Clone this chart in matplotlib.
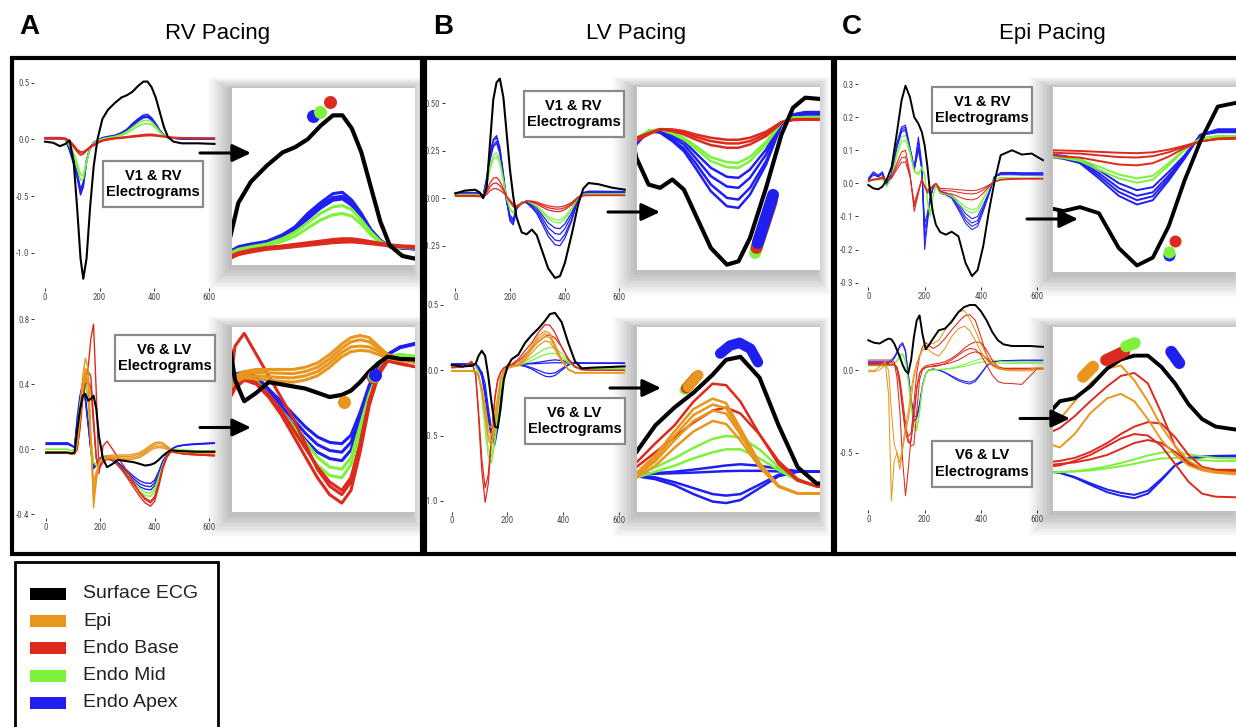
import matplotlib.pyplot as plt
from matplotlib import font_manager
from matplotlib.patches import Rectangle, FancyArrowPatch

plt.rcParams['font.family'] = ['Liberation Sans', 'DejaVu Sans']
_names = {f.name for f in font_manager.fontManager.ttflist}
TICK_FONT, TICK_SIZE = 'Liberation Sans', 5.2
for _cand in ['Liberation Sans Narrow', 'Roboto Condensed', 'DejaVu Sans Condensed', 'Open Sans Condensed']:
    if _cand in _names:
        TICK_FONT, TICK_SIZE = _cand, 6.4
        break

# ---------------- data (ms, mV) ----------------
# A: RV pacing, V1 & RV electrograms
tA1 = [0, 30, 55, 75, 90, 105, 118, 130, 140, 152, 165, 178, 192, 210, 230, 255,
       280, 300, 320, 340, 360, 375, 390, 405, 420, 435, 450, 470, 500, 560, 620]
A1_black = [-0.02, -0.03, -0.06, -0.04, -0.01, -0.20, -0.62, -1.05, -1.23, -1.05, -0.60, -0.24, 0.00, 0.18, 0.26, 0.32,
            0.37, 0.39, 0.42, 0.47, 0.51, 0.51, 0.46, 0.37, 0.24, 0.11, 0.02, -0.02, -0.035, -0.035, -0.04]
A1_blue = [
    [0.01, 0.01, 0.01, 0.00, -0.10, -0.22, -0.34, -0.49, -0.42, -0.20, -0.08, -0.03, -0.01, 0.015, 0.025, 0.035,
     0.06, 0.09, 0.14, 0.18, 0.215, 0.22, 0.19, 0.14, 0.08, 0.04, 0.015, 0.01, 0.005, 0.005, 0.005],
    [0.015, 0.015, 0.015, 0.005, -0.09, -0.20, -0.32, -0.46, -0.40, -0.19, -0.075, -0.03, -0.01, 0.012, 0.022, 0.033,
     0.055, 0.085, 0.13, 0.17, 0.20, 0.205, 0.18, 0.13, 0.075, 0.035, 0.015, 0.01, 0.005, 0.005, 0.005],
    [0.005, 0.005, 0.005, 0.00, -0.08, -0.19, -0.30, -0.44, -0.38, -0.18, -0.07, -0.03, -0.012, 0.01, 0.02, 0.03,
     0.05, 0.08, 0.12, 0.16, 0.19, 0.195, 0.17, 0.125, 0.07, 0.035, 0.015, 0.01, 0.005, 0.005, 0.005],
]
A1_green = [
    [0.01, 0.01, 0.01, 0.0, -0.06, -0.14, -0.24, -0.36, -0.35, -0.2, -0.08, -0.035, -0.015, 0.005, 0.015, 0.025,
     0.045, 0.07, 0.105, 0.14, 0.165, 0.17, 0.155, 0.115, 0.07, 0.035, 0.015, 0.012, 0.01, 0.01, 0.01],
    [0.01, 0.01, 0.01, 0.0, -0.05, -0.12, -0.21, -0.31, -0.32, -0.19, -0.08, -0.035, -0.015, 0.003, 0.012, 0.02,
     0.035, 0.055, 0.085, 0.115, 0.135, 0.14, 0.13, 0.1, 0.06, 0.03, 0.015, 0.012, 0.01, 0.01, 0.01],
]
A1_red = [
    [0.01, 0.01, 0.01, 0.005, -0.02, -0.07, -0.11, -0.14, -0.13, -0.1, -0.07, -0.05, -0.03, -0.01, 0.0, 0.01,
     0.015, 0.02, 0.025, 0.03, 0.035, 0.04, 0.04, 0.035, 0.03, 0.025, 0.02, 0.015, 0.012, 0.01, 0.01],
    [0.015, 0.015, 0.015, 0.01, -0.01, -0.05, -0.09, -0.11, -0.11, -0.09, -0.065, -0.045, -0.025, -0.008, 0.003, 0.012,
     0.018, 0.024, 0.03, 0.036, 0.042, 0.045, 0.045, 0.04, 0.034, 0.028, 0.022, 0.018, 0.015, 0.012, 0.012],
    [0.005, 0.005, 0.005, 0.0, -0.02, -0.06, -0.1, -0.12, -0.12, -0.1, -0.075, -0.055, -0.035, -0.015, -0.005, 0.005,
     0.01, 0.015, 0.02, 0.025, 0.03, 0.032, 0.033, 0.03, 0.026, 0.022, 0.018, 0.014, 0.01, 0.008, 0.008],
]

# A: RV pacing, V6 & LV electrograms
tA2 = [0, 40, 80, 95, 105, 115, 125, 135, 145, 155, 165, 175, 185, 195, 210, 225, 245,
       265, 285, 305, 325, 345, 365, 385, 400, 415, 430, 445, 460, 480, 510, 560, 620]
A2_black = [-0.02, -0.02, -0.02, -0.025, -0.02, 0.12, 0.24, 0.33, 0.34, 0.30, 0.31, 0.33, 0.25, 0.08, -0.06, -0.11, -0.09,
            -0.065, -0.07, -0.075, -0.08, -0.09, -0.10, -0.095, -0.085, -0.065, -0.04, -0.02, -0.005, -0.01, -0.012, -0.015, -0.015]
A2_blue = [
    [0.04, 0.04, 0.04, 0.025, 0.015, 0.20, 0.33, 0.41, 0.32, 0.17, 0.00, -0.12, -0.10, -0.065, -0.05, -0.045, -0.06,
     -0.095, -0.13, -0.165, -0.20, -0.23, -0.245, -0.25, -0.225, -0.16, -0.085, -0.035, 0.00, 0.018, 0.028, 0.035, 0.04],
    [0.035, 0.035, 0.035, 0.022, 0.012, 0.18, 0.31, 0.39, 0.31, 0.16, 0.00, -0.11, -0.095, -0.06, -0.048, -0.043, -0.056,
     -0.088, -0.12, -0.152, -0.185, -0.212, -0.226, -0.23, -0.207, -0.148, -0.078, -0.032, 0.00, 0.017, 0.027, 0.033, 0.038],
    [0.03, 0.03, 0.03, 0.02, 0.01, 0.16, 0.29, 0.37, 0.30, 0.15, 0.00, -0.10, -0.09, -0.057, -0.046, -0.041, -0.052,
     -0.081, -0.11, -0.14, -0.17, -0.194, -0.207, -0.21, -0.19, -0.136, -0.072, -0.03, 0.00, 0.016, 0.026, 0.031, 0.036],
]
A2_green = [
    [0.0, 0.0, 0.0, -0.01, 0.0, 0.12, 0.28, 0.40, 0.44, 0.30, 0.08, -0.08, -0.10, -0.07, -0.055, -0.05, -0.065,
     -0.10, -0.14, -0.18, -0.22, -0.26, -0.285, -0.29, -0.26, -0.18, -0.10, -0.04, -0.005, 0.0, -0.005, -0.01, -0.01],
    [0.0, 0.0, 0.0, -0.01, 0.0, 0.11, 0.26, 0.37, 0.41, 0.28, 0.07, -0.08, -0.095, -0.066, -0.052, -0.048, -0.062,
     -0.095, -0.13, -0.168, -0.205, -0.242, -0.265, -0.27, -0.243, -0.168, -0.094, -0.038, -0.005, 0.0, -0.005, -0.01, -0.01],
]
A2_red = [
    [-0.02, -0.02, -0.02, -0.03, -0.025, 0.05, 0.20, 0.35, 0.45, 0.50, 0.68, 0.77, 0.35, -0.15, 0.02, 0.05, 0.0,
     -0.05, -0.10, -0.15, -0.21, -0.27, -0.31, -0.33, -0.30, -0.21, -0.11, -0.04, -0.01, -0.01, -0.02, -0.03, -0.035],
    [-0.02, -0.02, -0.02, -0.03, -0.025, 0.0, 0.15, 0.35, 0.45, 0.48, 0.45, 0.20, -0.05, -0.12, -0.08, -0.06, -0.07,
     -0.10, -0.14, -0.19, -0.24, -0.29, -0.33, -0.35, -0.32, -0.23, -0.12, -0.05, -0.015, -0.02, -0.03, -0.035, -0.04],
    [-0.025, -0.025, -0.025, -0.03, -0.028, 0.0, 0.12, 0.30, 0.40, 0.42, 0.38, 0.15, -0.06, -0.10, -0.075, -0.058, -0.066,
     -0.094, -0.13, -0.175, -0.22, -0.265, -0.30, -0.32, -0.29, -0.21, -0.11, -0.045, -0.015, -0.022, -0.03, -0.035, -0.04],
]
A2_orange = [
    [-0.02, -0.02, -0.02, -0.03, -0.03, 0.05, 0.25, 0.45, 0.56, 0.50, 0.10, -0.36, -0.20, -0.08, -0.05, -0.04, -0.035,
     -0.035, -0.035, -0.035, -0.03, -0.02, 0.0, 0.025, 0.04, 0.045, 0.04, 0.02, 0.0, -0.01, -0.015, -0.02, -0.02],
    [-0.02, -0.02, -0.02, -0.03, -0.03, 0.04, 0.22, 0.40, 0.50, 0.45, 0.05, -0.30, -0.18, -0.085, -0.055, -0.045, -0.042,
     -0.043, -0.044, -0.045, -0.04, -0.03, -0.01, 0.015, 0.03, 0.035, 0.03, 0.015, 0.0, -0.01, -0.015, -0.02, -0.02],
    [-0.02, -0.02, -0.02, -0.03, -0.03, 0.03, 0.20, 0.38, 0.47, 0.42, 0.03, -0.25, -0.16, -0.09, -0.06, -0.05, -0.05,
     -0.052, -0.054, -0.055, -0.05, -0.04, -0.02, 0.005, 0.018, 0.02, 0.018, 0.008, -0.004, -0.012, -0.016, -0.02, -0.02],
    [-0.02, -0.02, -0.02, -0.03, -0.03, 0.03, 0.18, 0.36, 0.45, 0.40, 0.02, -0.20, -0.14, -0.09, -0.065, -0.055, -0.057,
     -0.06, -0.063, -0.065, -0.06, -0.05, -0.03, -0.005, 0.007, 0.01, 0.008, 0.0, -0.008, -0.014, -0.018, -0.02, -0.02],
]

# B: LV pacing, V1 & RV electrograms
tB1 = [0, 35, 72, 90, 102, 115, 127, 139, 151, 163, 176, 188, 200, 212, 224, 243,
       261, 280, 298, 316, 340, 365, 383, 401, 426, 450, 468, 487, 523, 572, 620]
B1_black = [0.025, 0.04, 0.045, 0.03, 0.0, 0.06, 0.29, 0.52, 0.61, 0.63, 0.53, 0.34, 0.15, 0.01, -0.10, -0.18,
            -0.19, -0.165, -0.195, -0.27, -0.37, -0.42, -0.41, -0.34, -0.19, -0.03, 0.05, 0.08, 0.074, 0.056, 0.045]
B1_blue = [
    [0.03, 0.03, 0.03, 0.025, 0.016, 0.11, 0.24, 0.31, 0.33, 0.27, 0.13, -0.01, -0.12, -0.14, -0.06, -0.02,
     -0.025, -0.05, -0.08, -0.13, -0.20, -0.245, -0.25, -0.21, -0.12, 0.0, 0.03, 0.037, 0.037, 0.036, 0.035],
    [0.03, 0.03, 0.03, 0.025, 0.016, 0.1, 0.23, 0.3, 0.32, 0.26, 0.12, -0.015, -0.11, -0.13, -0.055, -0.02,
     -0.022, -0.045, -0.072, -0.115, -0.18, -0.22, -0.225, -0.19, -0.11, 0.0, 0.028, 0.035, 0.035, 0.034, 0.033],
    [0.025, 0.025, 0.025, 0.02, 0.015, 0.09, 0.21, 0.28, 0.3, 0.245, 0.11, -0.02, -0.1, -0.12, -0.05, -0.02,
     -0.02, -0.038, -0.06, -0.1, -0.155, -0.186, -0.19, -0.16, -0.09, 0.002, 0.025, 0.03, 0.03, 0.03, 0.03],
    [0.025, 0.025, 0.025, 0.02, 0.015, 0.08, 0.2, 0.27, 0.29, 0.235, 0.105, -0.02, -0.09, -0.11, -0.05, -0.02,
     -0.018, -0.032, -0.05, -0.085, -0.13, -0.157, -0.16, -0.135, -0.075, 0.005, 0.022, 0.027, 0.027, 0.027, 0.027],
]
B1_green = [
    [0.02, 0.02, 0.02, 0.018, 0.012, 0.07, 0.17, 0.225, 0.24, 0.2, 0.1, 0.0, -0.06, -0.08, -0.045, -0.02,
     -0.015, -0.028, -0.045, -0.072, -0.11, -0.128, -0.13, -0.11, -0.06, 0.005, 0.02, 0.022, 0.022, 0.022, 0.022],
    [0.02, 0.02, 0.02, 0.018, 0.012, 0.065, 0.15, 0.205, 0.22, 0.185, 0.09, 0.0, -0.055, -0.075, -0.04, -0.02,
     -0.014, -0.025, -0.04, -0.064, -0.098, -0.113, -0.115, -0.097, -0.052, 0.006, 0.02, 0.022, 0.022, 0.022, 0.022],
]
B1_red = [
    [0.015, 0.015, 0.015, 0.012, 0.01, 0.04, 0.08, 0.105, 0.11, 0.09, 0.05, 0.01, -0.02, -0.045, -0.05, -0.03,
     -0.015, -0.02, -0.03, -0.045, -0.062, -0.07, -0.07, -0.06, -0.035, 0.005, 0.015, 0.016, 0.016, 0.016, 0.016],
    [0.012, 0.012, 0.012, 0.01, 0.008, 0.03, 0.06, 0.078, 0.08, 0.066, 0.04, 0.01, -0.015, -0.04, -0.045, -0.028,
     -0.015, -0.018, -0.025, -0.037, -0.05, -0.057, -0.057, -0.05, -0.028, 0.006, 0.014, 0.015, 0.015, 0.015, 0.015],
    [0.01, 0.01, 0.01, 0.008, 0.006, 0.02, 0.04, 0.05, 0.05, 0.042, 0.028, 0.008, -0.01, -0.03, -0.04, -0.026,
     -0.014, -0.015, -0.02, -0.03, -0.04, -0.046, -0.046, -0.04, -0.022, 0.007, 0.013, 0.014, 0.014, 0.014, 0.014],
]

# B: LV pacing, V6 & LV electrograms
tB2 = [0, 40, 72, 86, 96, 108, 120, 131, 143, 155, 165, 175, 187, 200, 215,
       239, 263, 287, 311, 335, 352, 370, 394, 418, 442, 466, 500, 560, 620]
B2_black = [0.04, 0.03, 0.035, 0.05, 0.11, 0.15, 0.11, -0.04, -0.25, -0.43, -0.44, -0.30, -0.07, 0.03, 0.085,
            0.12, 0.21, 0.27, 0.32, 0.38, 0.43, 0.44, 0.37, 0.21, 0.07, 0.015, 0.02, 0.025, 0.03]
B2_blue = [
    [0.046, 0.046, 0.046, 0.046, 0.02, -0.05, -0.20, -0.38, -0.52, -0.57, -0.45, -0.25, -0.06, 0.02, 0.035,
     0.04, 0.03, 0.01, -0.02, -0.045, -0.05, -0.04, 0.0, 0.04, 0.055, 0.055, 0.054, 0.054, 0.054],
    [0.046, 0.046, 0.046, 0.046, 0.02, -0.04, -0.18, -0.36, -0.50, -0.55, -0.43, -0.24, -0.06, 0.02, 0.035,
     0.042, 0.036, 0.02, 0.0, -0.02, -0.025, -0.02, 0.012, 0.045, 0.055, 0.055, 0.054, 0.054, 0.054],
    [0.05, 0.05, 0.05, 0.05, 0.03, -0.02, -0.15, -0.33, -0.48, -0.53, -0.42, -0.23, -0.05, 0.025, 0.038,
     0.045, 0.048, 0.05, 0.052, 0.055, 0.057, 0.058, 0.058, 0.056, 0.055, 0.055, 0.054, 0.054, 0.054],
    [0.05, 0.05, 0.05, 0.045, 0.005, -0.01, -0.10, -0.28, -0.45, -0.50, -0.40, -0.22, -0.05, 0.025, 0.04,
     0.045, 0.05, 0.055, 0.062, 0.07, 0.076, 0.08, 0.075, 0.065, 0.057, 0.055, 0.054, 0.054, 0.054],
]
B2_green = [
    [0.03, 0.03, 0.03, 0.03, -0.02, -0.20, -0.45, -0.66, -0.71, -0.55, -0.35, -0.15, -0.03, 0.02, 0.03,
     0.04, 0.07, 0.10, 0.135, 0.165, 0.175, 0.17, 0.13, 0.07, 0.025, 0.01, 0.01, 0.01, 0.01],
    [0.03, 0.03, 0.03, 0.03, -0.02, -0.18, -0.42, -0.60, -0.66, -0.52, -0.33, -0.14, -0.03, 0.02, 0.03,
     0.035, 0.055, 0.075, 0.10, 0.12, 0.13, 0.13, 0.10, 0.06, 0.025, 0.012, 0.012, 0.012, 0.012],
]
B2_red = [
    [0.02, 0.025, 0.07, -0.04, -0.35, -0.77, -1.01, -0.87, -0.53, -0.22, -0.08, -0.02, 0.02, 0.035, 0.046,
     0.085, 0.15, 0.21, 0.29, 0.35, 0.345, 0.29, 0.18, 0.08, 0.025, 0.005, 0.0, 0.0, 0.0],
    [0.02, 0.025, 0.06, -0.03, -0.30, -0.68, -0.90, -0.80, -0.50, -0.20, -0.07, -0.015, 0.015, 0.03, 0.04,
     0.07, 0.12, 0.17, 0.22, 0.26, 0.27, 0.25, 0.18, 0.09, 0.03, 0.006, 0.0, 0.0, 0.0],
]
B2_orange = [
    [-0.005, -0.005, -0.005, -0.01, -0.04, -0.13, -0.27, -0.42, -0.44, -0.33, -0.20, -0.06, 0.0, 0.02, 0.035,
     0.05, 0.11, 0.19, 0.265, 0.30, 0.285, 0.20, 0.085, 0.008, -0.018, -0.018, -0.018, -0.018, -0.018],
    [-0.005, -0.005, -0.005, -0.01, -0.04, -0.14, -0.30, -0.46, -0.50, -0.38, -0.22, -0.07, -0.005, 0.018, 0.032,
     0.045, 0.10, 0.175, 0.245, 0.28, 0.268, 0.19, 0.08, 0.006, -0.018, -0.018, -0.018, -0.018, -0.018],
    [-0.005, -0.005, -0.005, -0.01, -0.04, -0.15, -0.32, -0.50, -0.55, -0.42, -0.25, -0.08, -0.01, 0.015, 0.03,
     0.04, 0.09, 0.16, 0.225, 0.26, 0.25, 0.18, 0.075, 0.005, -0.018, -0.018, -0.018, -0.018, -0.018],
    [-0.005, -0.005, -0.005, -0.01, -0.04, -0.16, -0.34, -0.53, -0.58, -0.45, -0.27, -0.09, -0.015, 0.012, 0.025,
     0.035, 0.075, 0.135, 0.19, 0.225, 0.215, 0.16, 0.07, 0.005, -0.018, -0.018, -0.018, -0.018, -0.018],
]

# C: Epi pacing, V1 & RV electrograms
tC1 = [0, 18, 35, 50, 65, 83, 101, 118, 132, 148, 163, 178, 190, 200, 210, 220, 230,
       240, 255, 275, 296, 320, 345, 368, 388, 408, 428, 448, 470, 510, 545, 580, 620]
C1_black = [-0.005, -0.015, -0.018, -0.01, 0.01, 0.05, 0.15, 0.25, 0.295, 0.26, 0.20, 0.18, 0.155, 0.115, 0.05, -0.035, -0.09,
            -0.125, -0.147, -0.155, -0.146, -0.16, -0.24, -0.28, -0.262, -0.19, -0.085, 0.005, 0.085, 0.10, 0.087, 0.09, 0.07]
C1_blue = [
    [0.01, 0.03, 0.02, 0.03, -0.005, 0.03, 0.12, 0.17, 0.176, 0.11, 0.05, 0.14, 0.06, -0.20, -0.12, -0.05, -0.012,
     -0.005, -0.03, -0.035, -0.045, -0.08, -0.12, -0.14, -0.13, -0.085, -0.035, 0.02, 0.033, 0.033, 0.032, 0.032, 0.032],
    [0.015, 0.035, 0.025, 0.035, 0.0, 0.03, 0.115, 0.165, 0.17, 0.105, 0.045, 0.125, 0.05, -0.17, -0.11, -0.045, -0.012,
     -0.005, -0.028, -0.033, -0.042, -0.074, -0.111, -0.13, -0.121, -0.079, -0.032, 0.02, 0.03, 0.03, 0.03, 0.03, 0.03],
    [0.01, 0.025, 0.02, 0.028, -0.003, 0.028, 0.11, 0.16, 0.165, 0.1, 0.04, 0.11, 0.045, -0.14, -0.1, -0.045, -0.012,
     -0.005, -0.026, -0.03, -0.039, -0.068, -0.102, -0.12, -0.112, -0.073, -0.03, 0.02, 0.028, 0.028, 0.027, 0.027, 0.027],
    [0.012, 0.03, 0.022, 0.03, 0.0, 0.027, 0.105, 0.155, 0.16, 0.1, 0.04, 0.1, 0.04, -0.12, -0.09, -0.04, -0.012,
     -0.005, -0.024, -0.028, -0.035, -0.061, -0.091, -0.107, -0.1, -0.065, -0.027, 0.02, 0.026, 0.026, 0.025, 0.025, 0.025],
]
C1_green = [
    [0.005, 0.015, 0.01, 0.015, -0.01, 0.02, 0.09, 0.14, 0.145, 0.10, 0.04, 0.03, 0.05, 0.03, -0.06, -0.10, -0.04,
     -0.005, -0.03, -0.033, -0.04, -0.06, -0.08, -0.09, -0.083, -0.05, -0.015, 0.012, 0.018, 0.017, 0.016, 0.016, 0.016],
    [0.005, 0.012, 0.01, 0.012, -0.008, 0.018, 0.08, 0.125, 0.13, 0.09, 0.035, 0.025, 0.045, 0.025, -0.05, -0.09, -0.035,
     -0.005, -0.028, -0.03, -0.036, -0.053, -0.071, -0.08, -0.074, -0.045, -0.013, 0.012, 0.016, 0.015, 0.015, 0.015, 0.015],
]
C1_red = [
    [0.005, 0.01, 0.015, 0.02, 0.01, 0.02, 0.06, 0.095, 0.10, 0.03, -0.085, -0.03, 0.015, -0.01, -0.03, -0.02, -0.01,
     0.0, -0.025, -0.03, -0.032, -0.04, -0.048, -0.05, -0.045, -0.03, -0.01, 0.005, 0.012, 0.014, 0.015, 0.015, 0.015],
    [0.01, 0.012, 0.015, 0.018, 0.01, 0.018, 0.05, 0.077, 0.08, 0.025, -0.07, -0.025, 0.012, -0.01, -0.025, -0.018, -0.008,
     0.0, -0.02, -0.022, -0.023, -0.027, -0.031, -0.032, -0.029, -0.02, -0.007, 0.005, 0.011, 0.013, 0.014, 0.014, 0.014],
    [0.008, 0.01, 0.012, 0.015, 0.008, 0.015, 0.042, 0.063, 0.065, 0.02, -0.06, -0.02, 0.01, -0.008, -0.02, -0.015, -0.006,
     0.0, -0.015, -0.016, -0.017, -0.019, -0.021, -0.022, -0.02, -0.014, -0.005, 0.005, 0.01, 0.012, 0.013, 0.013, 0.013],
]

# C: Epi pacing, V6 & LV electrograms
tC2 = [0, 20, 40, 60, 72, 82, 92, 102, 112, 122, 132, 142, 152, 162, 172, 182, 192, 204, 215,
       230, 250, 272, 295, 320, 340, 360, 380, 400, 420, 440, 460, 480, 510, 545, 575, 600, 620]
C2_black = [0.18, 0.165, 0.16, 0.18, 0.19, 0.185, 0.16, 0.12, 0.08, 0.03, -0.005, -0.02, 0.06, 0.20, 0.30, 0.33, 0.22, 0.125, 0.15,
            0.19, 0.24, 0.25, 0.29, 0.35, 0.38, 0.393, 0.393, 0.355, 0.30, 0.23, 0.18, 0.155, 0.145, 0.145, 0.145, 0.142, 0.14]
C2_blue = [
    [0.05, 0.05, 0.05, 0.05, 0.05, 0.06, 0.08, 0.11, 0.15, 0.165, 0.12, -0.02, -0.18, -0.31, -0.29, -0.22, -0.10, -0.02, 0.0,
     0.006, 0.0, -0.016, -0.04, -0.065, -0.077, -0.085, -0.07, -0.025, 0.025, 0.05, 0.055, 0.057, 0.058, 0.06, 0.06, 0.06, 0.06],
    [0.04, 0.04, 0.04, 0.04, 0.04, 0.05, 0.07, 0.10, 0.14, 0.155, 0.11, -0.03, -0.17, -0.28, -0.28, -0.2, -0.09, -0.02, 0.0,
     0.005, 0.0, -0.014, -0.035, -0.056, -0.067, -0.074, -0.06, -0.02, 0.025, 0.048, 0.052, 0.054, 0.055, 0.056, 0.056, 0.056, 0.056],
]
C2_green = [
    [0.03, 0.03, 0.03, 0.03, 0.03, 0.03, 0.04, 0.06, 0.09, 0.1, 0.06, -0.06, -0.2, -0.33, -0.35, -0.25, -0.1, -0.02, 0.0,
     0.0, 0.003, 0.006, 0.012, 0.022, 0.033, 0.045, 0.058, 0.068, 0.07, 0.062, 0.055, 0.05, 0.048, 0.047, 0.047, 0.047, 0.047],
    [0.025, 0.025, 0.025, 0.025, 0.025, 0.025, 0.035, 0.05, 0.08, 0.09, 0.05, -0.07, -0.22, -0.35, -0.37, -0.26, -0.1, -0.02, 0.0,
     0.0, 0.002, 0.004, 0.008, 0.015, 0.022, 0.03, 0.04, 0.048, 0.05, 0.046, 0.042, 0.04, 0.04, 0.04, 0.04, 0.04, 0.04],
]
C2_red = [
    [0.06, 0.06, 0.06, 0.06, 0.06, 0.06, 0.05, -0.05, -0.25, -0.55, -0.76, -0.60, -0.40, -0.20, -0.02, 0.08, 0.14, 0.165, 0.15,
     0.13, 0.15, 0.19, 0.24, 0.29, 0.325, 0.335, 0.30, 0.20, 0.09, 0.03, 0.01, 0.005, 0.005, 0.005, 0.005, 0.005, 0.005],
    [0.045, 0.045, 0.045, 0.045, 0.045, 0.045, 0.04, 0.0, -0.10, -0.25, -0.38, -0.44, -0.43, -0.30, -0.12, -0.02, 0.01, 0.025, 0.03,
     0.035, 0.04, 0.05, 0.07, 0.10, 0.13, 0.155, 0.17, 0.165, 0.12, 0.06, 0.02, 0.01, 0.01, 0.01, 0.01, 0.01, 0.01],
    [0.035, 0.035, 0.035, 0.035, 0.035, 0.035, 0.035, 0.02, -0.05, -0.18, -0.32, -0.42, -0.46, -0.45, -0.25, -0.06, 0.0, 0.015, 0.02,
     0.025, 0.03, 0.035, 0.045, 0.06, 0.08, 0.10, 0.11, 0.10, 0.07, 0.035, 0.015, 0.01, 0.01, 0.01, 0.01, 0.01, 0.01],
    [0.03, 0.03, 0.03, 0.03, 0.03, 0.03, 0.03, 0.01, -0.08, -0.22, -0.36, -0.40, -0.38, -0.25, -0.10, -0.02, 0.005, 0.015, 0.02,
     0.02, 0.025, 0.04, 0.06, 0.09, 0.115, 0.13, 0.125, 0.09, 0.03, -0.03, -0.07, -0.08, -0.082, -0.087, -0.035, 0.008, 0.01],
]
C2_orange = [
    [0.0, -0.005, 0.02, 0.05, -0.15, -0.79, -0.55, -0.50, -0.60, -0.48, -0.38, -0.30, -0.18, -0.05, 0.03, 0.08, 0.12, 0.145, 0.155,
     0.16, 0.18, 0.24, 0.30, 0.35, 0.36, 0.31, 0.24, 0.155, 0.09, 0.04, 0.015, 0.004, 0.0, 0.0, 0.005, 0.015, 0.012],
    [-0.01, -0.01, 0.0, 0.03, 0.0, -0.25, -0.45, -0.50, -0.56, -0.45, -0.35, -0.25, -0.12, -0.02, 0.04, 0.09, 0.12, 0.13, 0.12,
     0.10, 0.085, 0.13, 0.20, 0.25, 0.265, 0.24, 0.18, 0.11, 0.06, 0.025, 0.008, 0.0, -0.005, -0.005, -0.005, 0.005, 0.005],
]

# timing markers drawn on the zoomed insets (ms, mV)
A1_dots = [('blue', 329, 0.506), ('green', 339, 0.523), ('red', 355, 0.56)]
A2_dots = [('orange', 388, -0.112), ('red', 436, -0.053), ('green', 437, -0.05), ('blue', 439, -0.047)]
B1_bars = [('green', [433, 409], [-0.24, -0.385]), ('red', [435, 411], [-0.23, -0.37]),
           ('blue', [437, 413], [-0.211, -0.355])]
B2_bars = [('green', [300, 313], [0.33, 0.37]), ('red', [302, 315], [0.335, 0.375]),
           ('orange', [304, 317], [0.339, 0.379]),
           ('blue', [344.6, 357, 369, 382.6, 392], [0.451, 0.478, 0.487, 0.467, 0.422])]
C1_dots = [('blue', 408, -0.257), ('green', 409, -0.248), ('red', 415.4, -0.224)]
C2_bars = [('orange', [284.3, 299.1], [0.322, 0.356]), ('red', [318.3, 345.3], [0.378, 0.407]),
           ('green', [348, 360.7], [0.424, 0.435]), ('blue', [414.4, 426.3], [0.406, 0.368])]

legend_labels = ['Surface ECG', 'Epi', 'Endo Base', 'Endo Mid', 'Endo Apex']
legend_keys = ['black', 'orange', 'red', 'green', 'blue']

COL = {'black': '#000000', 'orange': '#E8961E', 'red': '#DC2A1E', 'green': '#7CF23A', 'blue': '#1F1FF2'}

# ---------------- layout (pixels of the 1236x727 picture) ----------------
W, H = 1236, 727
fig = plt.figure(figsize=(W / 100, H / 100), dpi=100)
fig.patch.set_facecolor('white')


def frect(x0, x1, y0, y1):
    return [x0 / W, 1 - y1 / H, (x1 - x0) / W, (y1 - y0) / H]


bg = fig.add_axes([0, 0, 1, 1], zorder=0)
bg.set_xlim(0, W); bg.set_ylim(H, 0); bg.axis('off')
over = fig.add_axes([0, 0, 1, 1], zorder=6)
over.set_xlim(0, W); over.set_ylim(H, 0); over.axis('off')

panels = {
    'A1': dict(t=tA1, black=A1_black, blue=A1_blue, green=A1_green, red=A1_red, orange=[],
               px=(45, 209), py=((82.7, 0.5), (252.7, -1.0)), xlim=(-40, 640), ylim=(-1.31, 0.62),
               yt=[-1.0, -0.5, 0.0, 0.5], ytl=['-1.0', '-0.5', '0.0', '0.5'],
               box=(232, 415, 88, 265), ixl=(200, 490), iyl=(-0.054, 0.613),
               label=(153, 184), arrow=(200, 251, 153), lw=(1.5, 1.1), ilw=(3.0, 2.2)),
    'A2': dict(t=tA2, black=A2_black, blue=A2_blue, green=A2_green, red=A2_red, orange=A2_orange,
               px=(46, 209), py=((319.3, 0.8), (514.3, -0.4)), xlim=(-44, 640), ylim=(-0.423, 0.86),
               yt=[-0.4, 0.0, 0.4, 0.8], ytl=['-0.4', '0.0', '0.4', '0.8'],
               box=(232, 415, 327, 512), ixl=(205, 505), iyl=(-0.371, 0.065),
               label=(164.5, 358), arrow=(200, 251, 427.5), lw=(1.5, 1.0), ilw=(3.0, 2.2)),
    'B1': dict(t=tB1, black=B1_black, blue=B1_blue, green=B1_green, red=B1_red, orange=[],
               px=(455.3, 619.3), py=((103.3, 0.5), (245.7, -0.25)), xlim=(-38, 640), ylim=(-0.473, 0.68),
               yt=[-0.25, 0.0, 0.25, 0.5], ytl=['-0.25', '0.00', '0.25', '0.50'],
               box=(637, 820, 87, 270), ixl=(225, 510), iyl=(-0.436, 0.112),
               label=(573.5, 113.7), arrow=(608, 660, 212), lw=(1.5, 0.9), ilw=(3.0, 1.8)),
    'B2': dict(t=tB2, black=B2_black, blue=B2_blue, green=B2_green, red=B2_red, orange=B2_orange,
               px=(451.7, 619), py=((305, 0.5), (501, -1.0)), xlim=(-31, 640), ylim=(-1.081, 0.52),
               yt=[-1.0, -0.5, 0.0, 0.5], ytl=['-1.0', '-0.5', '0.0', '0.5'],
               box=(637, 820, 327, 512), ixl=(240, 470), iyl=(-0.08, 0.54),
               label=(574.5, 421), arrow=(610, 661, 388), lw=(1.5, 0.9), ilw=(3.0, 1.8)),
    'C1': dict(t=tC1, black=C1_black, blue=C1_blue, green=C1_green, red=C1_red, orange=[],
               px=(868.3, 1037.3), py=((84, 0.3), (282.7, -0.3)), xlim=(-35.5, 640), ylim=(-0.313, 0.33),
               yt=[-0.3, -0.2, -0.1, 0.0, 0.1, 0.2, 0.3], ytl=['-0.3', '-0.2', '-0.1', '0.0', '0.1', '0.2', '0.3'],
               box=(1053, 1236, 87, 272), ixl=(262, 493), iyl=(-0.295, 0.13),
               label=(982, 110), arrow=(1027, 1078, 219), lw=(1.4, 0.75), ilw=(2.8, 1.4)),
    'C2': dict(t=tC2, black=C2_black, blue=C2_blue, green=C2_green, red=C2_red, orange=C2_orange,
               px=(868.3, 1037.3), py=((370, 0.0), (452.7, -0.5)), xlim=(-36.5, 640), ylim=(-0.846, 0.42),
               yt=[-0.5, 0.0], ytl=['-0.5', '0.0'],
               box=(1053, 1236, 327, 511), ixl=(240, 510), iyl=(-0.128, 0.489),
               label=(982, 463.5), arrow=(1020, 1070, 418.5), lw=(1.4, 0.75), ilw=(2.8, 1.4)),
}
marks = {'A1': ('dot', A1_dots, 13), 'A2': ('dot', A2_dots, 13), 'B1': ('bar', B1_bars, 8.5),
         'B2': ('bar', B2_bars, 7.5), 'C1': ('dot', C1_dots, 12), 'C2': ('bar', C2_bars, 8.5)}
titles = {'A1': 'V1 & RV', 'A2': 'V6 & LV', 'B1': 'V1 & RV',
          'B2': 'V6 & LV', 'C1': 'V1 & RV', 'C2': 'V6 & LV'}


def draw_traces(ax, p, lw_black, lw_col):
    for key in ['blue', 'green', 'red', 'orange']:
        for y in p[key]:
            ax.plot(p['t'], y, color=COL[key], lw=lw_col, solid_joinstyle='round', solid_capstyle='round')
    ax.plot(p['t'], p['black'], color=COL['black'], lw=lw_black, solid_joinstyle='round')


for name, p in panels.items():
    # small trace plot
    sx = (p['px'][1] - p['px'][0]) / 600
    (pya, va), (pyb, vb) = p['py']
    sy = (pyb - pya) / (vb - va)
    left = p['px'][0] + p['xlim'][0] * sx
    right = p['px'][0] + p['xlim'][1] * sx
    top = pya + (p['ylim'][1] - va) * sy
    bottom = pya + (p['ylim'][0] - va) * sy
    ax = fig.add_axes(frect(left, right, top, bottom), zorder=2)
    ax.patch.set_alpha(0)
    draw_traces(ax, p, *p['lw'])
    ax.set_xlim(*p['xlim']); ax.set_ylim(*p['ylim'])
    ax.set_xticks([0, 200, 400, 600]); ax.set_xticklabels(['0', '200', '400', '600'])
    ax.set_yticks(p['yt']); ax.set_yticklabels(p['ytl'])
    for s in ax.spines.values():
        s.set_visible(False)
    ax.tick_params(length=2.5, width=0.7, color='#333333', labelsize=TICK_SIZE, labelcolor='#4d4d4d', pad=1.0)
    for lab in ax.get_xticklabels() + ax.get_yticklabels():
        lab.set_fontfamily(TICK_FONT)

    # soft drop shadow behind the zoomed inset
    x0, x1, y0, y1 = p['box']
    for k in range(16):
        g = 1.4 * k
        bg.add_patch(Rectangle((x0 - 3 - g, y0 - 0.5 * g), (x1 - x0) + 1.6 * g, (y1 - y0) + 4 + 1.5 * g,
                               facecolor='black', edgecolor='none', alpha=0.017))

    # zoomed inset
    ia = fig.add_axes(frect(x0, x1, y0, y1), zorder=3)
    ia.set_facecolor('white')
    draw_traces(ia, p, *p['ilw'])
    kind, items, size = marks[name]
    for c, mx, my in (items if kind == 'dot' else []):
        ia.plot(mx, my, 'o', ms=size * 0.72, color=COL[c], mec='none', zorder=5)
    for c, mx, my in (items if kind == 'bar' else []):
        ia.plot(mx, my, color=COL[c], lw=size * 0.72 * 1.4, solid_capstyle='round', zorder=5)
    ia.set_xlim(*p['ixl']); ia.set_ylim(*p['iyl'])
    ia.set_xticks([]); ia.set_yticks([])
    for s in ia.spines.values():
        s.set_visible(False)

    # label box
    cx, cy = p['label']
    over.add_patch(Rectangle((cx - 50, cy - 23), 100, 46, facecolor='white', edgecolor='#8a8a8a', lw=1.6))
    over.text(cx, cy, titles[name] + '\nElectrograms', ha='center', va='center',
              fontsize=10.5, fontweight='bold', linespacing=1.2, color='black')

    # arrow into inset
    ax0, ax1, ay = p['arrow']
    over.add_patch(FancyArrowPatch((ax0, ay), (ax1, ay), arrowstyle='-|>,head_length=0.8,head_width=0.38',
                                   mutation_scale=14, lw=2.2, color='black', shrinkA=0, shrinkB=0))

# panel frames and headings
for x0, x1, letter, lx, title, tx in [(12, 422, 'A', 29, 'RV Pacing', 218),
                                      (425, 833, 'B', 443, 'LV Pacing', 636),
                                      (835, 1245, 'C', 852, 'Epi Pacing', 1052)]:
    over.add_patch(Rectangle((x0, 58), x1 - x0, 496, facecolor='none', edgecolor='black', lw=3))
    over.text(lx, 27, letter, ha='center', va='center', fontsize=20, fontweight='bold')
    over.text(tx, 33, title, ha='center', va='center', fontsize=16)

# legend
over.add_patch(Rectangle((15, 562), 203, 180, facecolor='white', edgecolor='black', lw=2))
for i, (lab, key) in enumerate(zip(legend_labels, legend_keys)):
    yy = 594 + 27.2 * i
    over.add_patch(Rectangle((30, yy - 6), 36, 12, facecolor=COL[key], edgecolor='none'))
    over.text(83, yy, lab, ha='left', va='center', fontsize=14, color='#222222')

fig.savefig('out.png', dpi=100, facecolor='white')
